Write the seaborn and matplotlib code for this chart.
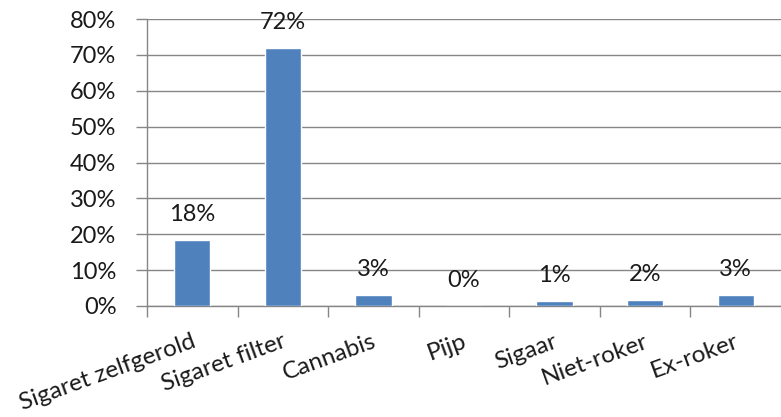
import matplotlib
matplotlib.use("Agg")
import matplotlib.pyplot as plt
import seaborn as sns
import pandas as pd
import numpy as np

categories = ["Sigaret zelfgerold", "Sigaret filter", "Cannabis", "Pijp",
              "Sigaar", "Niet-roker", "Ex-roker"]
shares = [18.3, 71.9, 3.1, 0.0, 1.3, 1.7, 3.1]
y_ticks = [0, 10, 20, 30, 40, 50, 60, 70, 80]

sns.set_theme(style="white")
plt.rcParams["font.family"] = ["Lato", "DejaVu Sans"]

df = pd.DataFrame({"soort": categories, "aandeel": shares})

W, H = 781, 417
fig = plt.figure(figsize=(W / 100, H / 100), dpi=100)
left, right, top, bottom = 147, 781, 19, 306
ax = fig.add_axes([left / W, 1 - bottom / H, (right - left) / W, (bottom - top) / H])

grid_col = "#868686"
text_col = "#1a1a1a"
fs = 17
sns.barplot(data=df, x="soort", y="aandeel", color="#4F81BD", width=0.4,
            saturation=1, ax=ax, zorder=3)

ax.set_xlim(-0.5, len(categories) - 0.5)
ax.set_ylim(0, 80)
ax.set_yticks(y_ticks)
ax.set_yticklabels([f"{v}%" for v in y_ticks], fontsize=fs, color=text_col)
ax.yaxis.grid(True, color=grid_col, linewidth=1, zorder=0)
ax.xaxis.grid(False)
ax.set_xlabel("")
ax.set_ylabel("")

for side in ["top", "right"]:
    ax.spines[side].set_visible(False)
for side in ["left", "bottom"]:
    ax.spines[side].set_color(grid_col)
    ax.spines[side].set_linewidth(1)

# y ticks point outward to the left
ax.tick_params(axis="y", which="major", left=True, length=8, width=1,
               color=grid_col, pad=14, direction="out")

# x ticks sit at the category boundaries
bounds = np.arange(len(categories) + 1) - 0.5
ax.set_xticks(bounds[:-1], minor=False)
ax.set_xticklabels([])
ax.tick_params(axis="x", which="major", bottom=True, length=8, width=1,
               color=grid_col, direction="out")

# category names rotated under each bar
for i, name in enumerate(categories):
    ax.annotate(name, xy=(i, 0), xycoords=("data", "data"),
                xytext=(-1, -18), textcoords="offset points",
                rotation=20, rotation_mode="anchor", ha="right", va="top",
                fontsize=17.5, color=text_col, annotation_clip=False)

# value labels above bars
for i, v in enumerate(shares):
    ax.annotate(f"{v:.0f}%", xy=(i, v), xytext=(0, 11), textcoords="offset points",
                ha="center", va="bottom", fontsize=fs, color=text_col,
                annotation_clip=False)

fig.savefig("out.png", dpi=100, facecolor="white")
